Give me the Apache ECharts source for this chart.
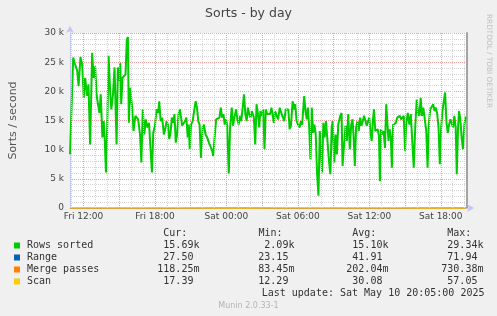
<!DOCTYPE html>
<html><head><meta charset="utf-8">
<script src="https://cdn.jsdelivr.net/npm/echarts/dist/echarts.min.js"></script>
<style>html,body{margin:0;padding:0;background:#f0f0f0}#c{width:497px;height:316px}</style>
</head><body><div id="c"></div><script>
// time in hours since Fri 00:00
const timesH = [
10.87,11.14,11.25,11.48,11.59,11.75,11.89,12.03,12.14,12.31,12.42,12.56,12.73,12.86,12.98,13.11,13.23,13.34,13.45,13.59,13.70,13.78,13.89,14.00,14.11,14.25,14.34,14.48,14.61,14.78,14.89,15.00,15.09,15.17,15.28,15.42,15.53,15.64,15.73,15.81,15.92,16.09,16.20,16.36,
16.45,16.59,16.75,16.86,16.98,17.11,17.23,17.36,17.50,17.61,17.75,17.86,18.00,18.14,18.28,18.36,18.48,18.61,18.75,18.86,18.98,19.09,19.20,19.31,19.42,19.53,19.64,19.75,19.86,19.98,20.09,20.20,20.28,20.42,20.53,20.64,20.75,20.84,20.92,21.03,21.17,21.31,21.42,21.53,21.64,21.75,21.86,22.00,22.11,
22.25,22.39,22.53,22.67,22.81,22.89,23.03,23.14,23.28,23.42,23.53,23.64,23.75,23.86,23.98,24.06,24.20,24.31,24.45,24.56,24.67,24.81,24.92,25.03,25.14,25.25,25.36,25.48,25.59,25.70,25.81,25.92,26.03,26.14,26.31,26.42,26.53,26.64,26.75,26.86,26.98,27.09,27.20,27.31,27.42,27.53,27.67,27.78,
27.86,27.98,28.09,28.23,28.34,28.48,28.61,28.75,28.86,28.98,29.09,29.20,29.31,29.42,29.56,29.67,29.78,29.89,30.03,30.14,30.25,30.36,30.45,30.53,30.64,30.75,30.84,30.95,31.06,31.17,31.28,31.39,31.50,31.61,31.73,31.84,31.95,32.03,32.14,32.25,32.36,32.50,32.61,32.73,32.84,32.92,33.06,33.17,33.28,33.39,
33.56,33.67,33.75,33.86,34.00,34.11,34.23,34.36,34.48,34.59,34.70,34.78,34.89,35.00,35.11,35.23,35.34,35.45,35.56,35.67,35.78,35.89,36.00,36.11,36.20,36.31,36.39,36.50,36.61,36.70,36.81,36.89,36.98,37.09,37.20,37.31,37.42,37.50,37.61,37.70,37.81,37.89,38.00,38.11,38.23,38.34,38.45,38.56,38.67,38.78,38.89,39.00,
39.09,39.23,39.36,39.48,39.61,39.73,39.86,39.98,40.09,40.20,40.31,40.42,40.53,40.67,40.78,40.89,41.00,41.11,41.25,41.36,41.48,41.59,41.70,41.81,41.92,42.03,42.14,42.25,42.36,42.48,42.59,42.70,42.81,42.92,43.03,43.14,43.25,43.34,43.45,43.53,43.64,43.75,43.86,43.98,44.09
];
const rowsSorted = [
9200,25800,24900,23500,20900,25900,24600,18900,22300,19200,21200,10900,26600,22300,24300,19200,18900,16300,19500,12100,14900,12100,6100,14300,26100,19500,16900,19500,24100,10900,24100,21800,24900,17800,22300,22300,22900,28900,29300,14600,20600,17200,13200,15800,
15800,15200,12600,7800,16900,12600,15200,13800,14600,14300,6100,12900,14100,16900,16300,18300,14900,15500,12600,13500,14900,14300,11800,12900,15500,14600,16100,11200,12600,16100,16900,15500,14100,14300,14900,15500,12100,14300,10100,14300,14900,16900,18300,17200,14900,14300,8600,13800,14300,
12600,12100,11200,11200,9800,8900,12600,15200,15500,15500,17200,15500,16100,14300,15200,14300,5900,13800,17200,14100,15500,16900,15200,14300,15800,14900,15200,19500,16100,14900,17200,16100,15500,16600,15500,10900,17800,16300,13800,16600,15800,16900,10100,16900,16100,16300,16100,17200,
16300,14600,16600,15800,15200,17200,16300,16600,14900,16900,16600,16900,13500,14100,18300,16900,17800,14900,14600,13800,14900,14300,16900,19200,16600,15200,17200,13800,8300,17200,12900,14300,12600,6100,2100,13200,9500,6100,14600,12100,14900,14600,8100,5800,13800,14900,7800,12600,9200,14300,
15800,16300,7200,10300,14100,11500,16100,10100,14300,15200,11500,7200,13800,14900,13200,15500,14100,14900,15800,15500,14100,14900,15500,12600,11500,15200,16900,13200,12900,13500,12300,4600,13500,12600,13200,10300,17800,17500,11500,13500,12100,6900,14300,14300,14600,15500,15800,15800,15200,14900,15800,9800,
14300,16300,14300,16100,15800,6900,14100,18600,16300,15800,18900,15800,17200,16900,13200,6900,14600,16900,16900,17800,16600,17200,16100,13800,7500,13800,16600,16900,19800,14600,12900,14300,15200,15500,13800,15800,13800,5800,13800,16600,15200,12100,10100,14300,15690
];
const smallTimes = [10.87,14,17,20,23,26,29,32,35,38,41,44.09];
const rangeVals = [45,62,50,38,30,35,40,48,42,36,30,27.5];
const mergeVals = [0.3,0.5,0.2,0.15,0.1,0.12,0.2,0.3,0.18,0.15,0.12,0.118];
const scanVals = [33,52,32,25,18,20,28,35,30,26,20,17.39];

const seriesNames = ['Rows sorted','Range','Merge passes','Scan'];
const seriesColors = ['#00cc00','#0066b3','#ff8000','#ffcc00'];
const curText = [' 15.69k',' 27.50 ','118.25m',' 17.39 '];
const minText = [' 2.09k','23.15 ','83.45m','12.29 '];
const avgText = [' 15.10k',' 41.91 ','202.04m',' 30.08 '];
const maxText = [' 29.34k',' 71.94 ','730.38m',' 57.05 '];
const xTickHours = [12,18,24,30,36,42];
const xTickLabels = ['Fri 12:00','Fri 18:00','Sat 00:00','Sat 06:00','Sat 12:00','Sat 18:00'];
const lastUpdate = 'Last update: Sat May 10 20:05:00 2025';

const X_MIN = 10.87, X_MAX = 44.2;
const gridLines = [];
for (let h = 11; h <= 44; h++) {
  const major = h % 3 === 0;
  gridLines.push({ xAxis: h, lineStyle: { color: major ? '#f0a0a0' : '#d4d4d4', type: [1, 1], width: 1 } });
}

const pair = (t, v) => t.map((x, i) => [x, v[i]]);
const mono = '"DejaVu Sans Mono", monospace';
const sans = '"DejaVu Sans", sans-serif';
const lav = '#c4c4f2';
const rowY = [245.5, 257.5, 269.5, 281.5];

const graphics = [];
const addText = (txt, x, y) => graphics.push({
  type: 'text', x: x, y: y, silent: true,
  style: { text: txt, fill: '#333', font: '10px ' + mono, verticalAlign: 'middle', align: 'left' }
});
addText('Cur:', 163.3, 233.5); addText('Min:', 258.5, 233.5); addText('Avg:', 352.3, 233.5); addText('Max:', 447.3, 233.5);
for (let i = 0; i < 4; i++) {
  addText(curText[i], 157.3, rowY[i]);
  addText(minText[i], 258.3, rowY[i]);
  addText(avgText[i], 346.3, rowY[i]);
  addText(maxText[i], 441.3, rowY[i]);
}
addText(lastUpdate, 261.7, 293.5);
graphics.push({ type: 'text', x: 248.5, y: 305.5, silent: true,
  style: { text: 'Munin 2.0.33-1', fill: '#b4b4b4', font: '8px ' + sans, align: 'center', verticalAlign: 'middle' } });
graphics.push({ type: 'text', x: 488.5, y: 61, rotation: -Math.PI / 2, silent: true,
  style: { text: 'RRDTOOL / TOBI OETIKER', fill: '#c0c0c0', font: '7.3px ' + sans, align: 'center', verticalAlign: 'middle' } });

const lineSeries = (i, t, v, w) => ({
  name: seriesNames[i], type: 'line', data: pair(t, v), showSymbol: false, symbol: 'none', z: 3,
  lineStyle: { color: seriesColors[i], width: w }, itemStyle: { color: seriesColors[i] }
});

const chart = echarts.init(document.getElementById('c'), null, { renderer: 'canvas' });
chart.setOption({
  animation: false,
  backgroundColor: '#f0f0f0',
  title: { text: 'Sorts - by day', left: 'center', top: 7, padding: 0,
    textStyle: { fontFamily: sans, fontSize: 12.5, fontWeight: 'normal', color: '#444' } },
  legend: { orient: 'vertical', left: 14, top: 239.5, padding: 0, itemGap: 0, itemWidth: 6, itemHeight: 6,
    icon: 'rect', selectedMode: false, data: seriesNames,
    textStyle: { fontFamily: mono, fontSize: 10, lineHeight: 12, color: '#333', padding: [0, 0, 0, 2] } },
  grid: { left: 67, top: 33, width: 400, height: 175, show: true, backgroundColor: '#ffffff', borderWidth: 0 },
  xAxis: {
    type: 'value', min: X_MIN, max: X_MAX,
    axisLine: { show: true, onZero: false, symbol: ['none', 'arrow'], symbolSize: [6, 7], symbolOffset: [0, 7], lineStyle: { color: lav, width: 1 } },
    axisTick: { show: false },
    axisLabel: { customValues: xTickHours, margin: 4, color: '#444', fontFamily: sans, fontSize: 9,
      formatter: v => { const i = xTickHours.indexOf(Math.round(v)); return i >= 0 ? xTickLabels[i] : ''; } },
    splitLine: { show: false }
  },
  yAxis: [
    { type: 'value', min: 0, max: 30000, interval: 5000,
      name: 'Sorts / second', nameLocation: 'middle', nameGap: 51,
      nameTextStyle: { fontFamily: sans, fontSize: 11, color: '#555' },
      axisLine: { show: true, symbol: ['none', 'arrow'], symbolSize: [6, 7], symbolOffset: [0, 7], lineStyle: { color: lav, width: 1 } },
      axisTick: { show: false },
      axisLabel: { margin: 6, color: '#444', fontFamily: sans, fontSize: 9,
        formatter: v => v === 0 ? '0' : (v / 1000) + ' k' },
      splitLine: { show: true, lineStyle: { color: '#f0a0a0', type: [1, 1], width: 1 } },
      minorTick: { show: false, splitNumber: 5 },
      minorSplitLine: { show: true, lineStyle: { color: '#d4d4d4', type: [1, 1], width: 1 } } },
    { type: 'value', min: 0, max: 30000, position: 'right',
      axisLine: { show: true, lineStyle: { color: '#a4a4a4', width: 2 } },
      axisTick: { show: false }, axisLabel: { show: false }, splitLine: { show: false } }
  ],
  series: [
    { name: 'grid', type: 'line', data: [], z: 1, silent: true,
      markLine: { silent: true, symbol: ['none', 'none'], label: { show: false }, animation: false, data: gridLines } },
    lineSeries(0, timesH, rowsSorted, 2),
    lineSeries(1, smallTimes, rangeVals, 1.5),
    lineSeries(2, smallTimes, mergeVals, 1.5),
    lineSeries(3, smallTimes, scanVals, 1.5)
  ],
  graphic: graphics
});
</script></body></html>
